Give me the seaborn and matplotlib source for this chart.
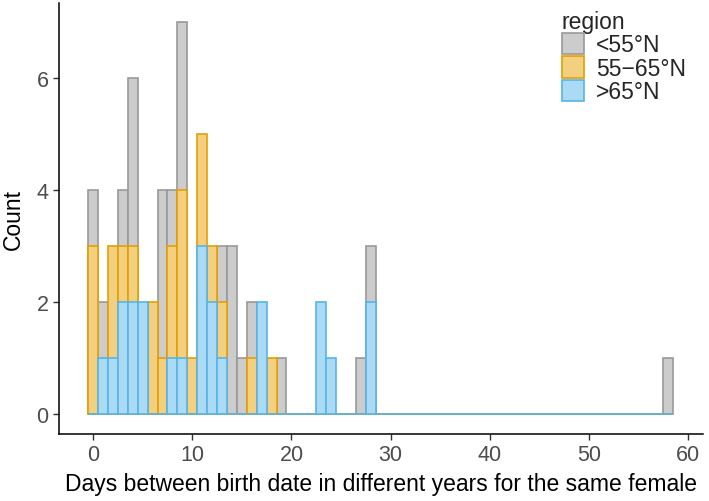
import numpy as np
import pandas as pd
import matplotlib
matplotlib.use("Agg")
import matplotlib.pyplot as plt
from matplotlib.patches import Patch
import seaborn as sns

# counts per day (bins of width 1 centred on whole days)
days_south = [0, 1, 3, 4, 7, 8, 9, 13, 14, 15, 16, 19, 27, 28, 58]
count_south = [4, 2, 4, 6, 4, 4, 7, 3, 3, 1, 2, 1, 1, 3, 1]

days_mid = [0, 2, 3, 4, 6, 7, 8, 9, 10, 11, 12, 13, 16, 18]
count_mid = [3, 3, 3, 3, 2, 1, 3, 4, 1, 5, 3, 2, 1, 1]

days_north = [1, 2, 3, 4, 5, 8, 9, 11, 12, 13, 17, 23, 24, 28]
count_north = [1, 1, 2, 2, 2, 1, 1, 3, 2, 1, 2, 2, 1, 2]

regions = ["<55°N", "55\u221265°N", ">65°N"]
edge_cols = ["#999999", "#E69F00", "#56B4E9"]
fill_cols = ["#CCCCCC", "#F3CF80", "#ABDAF4"]

df = pd.concat([
    pd.DataFrame({"days": days_south, "n": count_south, "region": regions[0]}),
    pd.DataFrame({"days": days_mid, "n": count_mid, "region": regions[1]}),
    pd.DataFrame({"days": days_north, "n": count_north, "region": regions[2]}),
])

sns.set_style("ticks")
plt.rcParams["font.family"] = ["Liberation Sans", "DejaVu Sans"]

fig = plt.figure(figsize=(7.09, 5.02), dpi=100)
ax = fig.add_axes([0.083, 0.134, 0.908, 0.859])

# south first, north last so it sits on top
for reg, fc, ec in zip(regions, fill_cols, edge_cols):
    sub = df[df["region"] == reg]
    sns.histplot(data=sub, x="days", weights="n", binwidth=1, binrange=(-0.5, 58.5),
                 color=fc, alpha=1, edgecolor=ec, linewidth=1.2, ax=ax)

ax.set_xlim(-3.45, 61.45)
ax.set_ylim(-0.35, 7.35)
ax.set_xticks(range(0, 61, 10))
ax.set_yticks([0, 2, 4, 6])
ax.set_xlabel("Days between birth date in different years for the same female",
              fontsize=16.5, color="black", labelpad=5)
ax.set_ylabel("Count", fontsize=16.5, color="black", labelpad=8)
ax.tick_params(axis="both", labelsize=15.5, labelcolor="#4d4d4d", color="#333333",
               length=4, width=1)
for side in ["top", "right"]:
    ax.spines[side].set_visible(False)
for side in ["left", "bottom"]:
    ax.spines[side].set_color("black")
    ax.spines[side].set_linewidth(1.1)

handles = [Patch(facecolor=fc, edgecolor=ec, linewidth=1.2)
           for fc, ec in zip(fill_cols, edge_cols)]
leg = ax.legend(handles, regions, title="region", loc="upper left",
                bbox_to_anchor=(0.792, 0.978), bbox_transform=fig.transFigure,
                frameon=False, fontsize=16.5, title_fontsize=16.5,
                handlelength=1.0, handleheight=1.05, handletextpad=0.5,
                labelspacing=0.0, borderaxespad=0, borderpad=0)
leg._legend_box.align = "left"

fig.savefig("out.png", dpi=100)
